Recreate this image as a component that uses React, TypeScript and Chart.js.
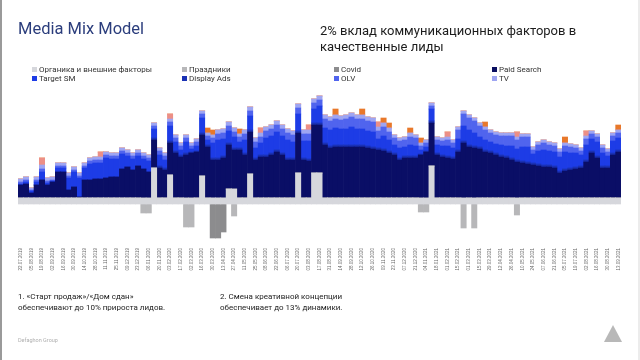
import React, { useEffect, useRef } from "react";
import { Chart, registerables } from "chart.js";

Chart.register(...registerables);

const weekLabels: string[] = [
  "22.07.2019","29.07.2019","05.08.2019","12.08.2019","19.08.2019","26.08.2019","02.09.2019","09.09.2019","16.09.2019","23.09.2019",
  "30.09.2019","07.10.2019","14.10.2019","21.10.2019","28.10.2019","04.11.2019","11.11.2019","18.11.2019","25.11.2019","02.12.2019",
  "09.12.2019","16.12.2019","23.12.2019","30.12.2019","06.01.2020","13.01.2020","20.01.2020","27.01.2020","03.02.2020","10.02.2020",
  "17.02.2020","24.02.2020","02.03.2020","09.03.2020","16.03.2020","23.03.2020","30.03.2020","06.04.2020","13.04.2020","20.04.2020",
  "27.04.2020","04.05.2020","11.05.2020","18.05.2020","25.05.2020","01.06.2020","08.06.2020","15.06.2020","22.06.2020","29.06.2020",
  "06.07.2020","13.07.2020","20.07.2020","27.07.2020","03.08.2020","10.08.2020","17.08.2020","24.08.2020","31.08.2020","07.09.2020",
  "14.09.2020","21.09.2020","28.09.2020","05.10.2020","12.10.2020","19.10.2020","26.10.2020","02.11.2020","09.11.2020","16.11.2020",
  "23.11.2020","30.11.2020","07.12.2020","14.12.2020","21.12.2020","28.12.2020","04.01.2021","11.01.2021","18.01.2021","25.01.2021",
  "01.02.2021","08.02.2021","15.02.2021","22.02.2021","01.03.2021","08.03.2021","15.03.2021","22.03.2021","29.03.2021","05.04.2021",
  "12.04.2021","19.04.2021","26.04.2021","03.05.2021","10.05.2021","17.05.2021","24.05.2021","31.05.2021","07.06.2021","14.06.2021",
  "21.06.2021","28.06.2021","05.07.2021","12.07.2021","19.07.2021","26.07.2021","02.08.2021","09.08.2021","16.08.2021","23.08.2021",
  "30.08.2021","06.09.2021","13.09.2021"
];

const organic: number[] = [
  6,6,6,6,6,6,6,6,6,6, 6,6,6,6,6,6,6,6,6,6, 6,6,6,6,6,36,6,6,29,6,
  6,6,6,6,28,6,6,6,6,15, 15,6,6,30,6,6,6,6,6,6, 6,6,31,6,6,31,31,6,6,6,
  6,6,6,6,6,6,6,6,6,6, 6,6,6,6,6,6,6,38,6,6, 6,6,6,6,6,6,6,6,6,6,
  6,6,6,6,6,6,6,6,6,6, 6,6,6,6,6,6,6,6,6,6, 6,6,6
];

const holidays: number[] = [
  0,0,0,0,0,0,0,0,0,0, 0,0,0,0,0,0,0,0,0,0, 0,0,0,-9,-9,0,0,0,0,0,
  0,-23,-23,0,0,0,0,0,0,0, -12,0,0,0,0,0,0,0,0,0, 0,0,0,0,0,0,0,0,0,0,
  0,0,0,0,0,0,0,0,0,0, 0,0,0,0,0,-8,-8,0,0,0, 0,0,0,-24,0,-24,0,0,0,0,
  0,0,0,-11,0,0,0,0,0,0, 0,0,0,0,0,0,0,0,0,0, 0,0,0
];

const covid: number[] = [
  0,0,0,0,0,0,0,0,0,0, 0,0,0,0,0,0,0,0,0,0, 0,0,0,0,0,0,0,0,0,0,
  0,0,0,0,0,0,-34,-34,-28,0, 0,0,0,0,0,0,0,0,0,0, 0,0,0,0,0,0,0,0,0,0,
  0,0,0,0,0,0,0,0,0,0, 0,0,0,0,0,0,0,0,0,0, 0,0,0,0,0,0,0,0,0,0,
  0,0,0,0,0,0,0,0,0,0, 0,0,0,0,0,0,0,0,0,0, 0,0,0
];

const paidSearch: number[] = [
  13,14,5,13,18,13,16,26,26,8, 11,1,18,18,19,19,20,21,21,29, 31,28,32,29,26,28,30,28,32,45,
  41,43,45,46,41,51,38,38,40,44, 39,48,43,42,38,41,41,43,46,43, 38,38,40,38,37,48,48,53,50,51,
  51,51,51,51,51,50,49,48,47,45, 43,38,40,40,40,43,46,43,43,41, 40,39,46,55,51,50,49,46,45,43,
  41,40,38,36,35,34,33,32,31,31, 30,25,27,28,29,30,36,45,40,30, 30,43,46
];

const displayAds: number[] = [
  0,0,0,0,0,0,0,0,0,0, 0,0,0,0,0,0,0,0,0,0, 0,0,0,0,0,2,2,2,2,2,
  2,2,1,1,2,2,2,2,2,2, 2,2,2,2,2,2,2,2,2,2, 2,2,2,2,2,2,2,2,2,2,
  2,2,2,2,2,2,2,2,2,2, 2,2,2,2,2,1,1,2,2,2, 2,2,2,2,2,2,2,2,2,2,
  2,2,2,2,2,2,2,2,2,2, 2,2,2,2,2,2,2,2,2,2, 2,2,2
];

const targetSM: number[] = [
  1,2,2,3,8,2,1,4,4,12, 15,19,12,16,16,16,20,18,18,15, 11,11,10,10,11,9,11,8,15,9,
  5,11,3,5,15,5,15,18,17,12, 11,6,13,14,10,12,17,17,18,17, 18,16,17,17,18,14,17,15,16,17,
  16,16,18,16,16,15,15,9,13,11, 8,10,9,11,10,4,4,12,8,9, 10,9,11,15,15,13,10,10,9,9,
  10,10,12,11,14,15,9,13,15,14, 14,14,17,15,14,11,15,12,14,13, 10,12,12
];

const olv: number[] = [
  2,2,1,2,3,2,1,2,2,2, 2,2,2,3,3,3,3,3,3,3, 3,3,3,3,3,3,4,4,4,4,
  4,4,3,4,4,4,5,6,6,5, 5,5,6,5,6,6,7,7,7,7, 7,7,6,7,7,6,6,9,9,9,
  9,10,10,10,10,10,10,8,9,8, 7,7,7,8,8,4,4,3,5,5, 6,5,9,12,12,12,11,10,9,9,
  9,10,10,9,10,10,4,6,7,6, 6,5,6,6,5,4,6,5,5,5, 4,5,5
];

const tv: number[] = [
  3,3,2,3,4,3,3,3,3,3, 3,3,3,3,3,3,3,3,3,3, 3,3,3,3,3,3,3,3,3,3,
  3,3,3,3,3,3,3,4,4,4, 4,3,4,4,4,4,4,4,4,4, 4,4,4,4,4,4,4,4,4,4,
  4,4,4,4,4,4,4,4,4,4, 3,3,3,4,3,3,3,3,3,3, 3,3,3,3,3,3,3,3,3,3,
  3,3,3,3,3,3,3,3,3,3, 3,3,3,3,3,3,3,3,3,3, 3,3,3
];

const salesStart: number[] = [
  0,0,0,0,7,0,0,0,0,0, 0,0,0,0,0,5,0,0,0,0, 0,0,0,0,0,0,0,0,5,0,
  0,0,0,0,0,0,0,0,0,0, 0,0,0,0,0,5,0,0,0,0, 0,0,0,0,5,0,0,0,0,0,
  0,0,0,0,0,0,0,5,0,0, 0,0,0,0,0,0,0,0,0,0, 5,0,0,0,0,0,0,0,0,0,
  0,0,0,5,0,0,0,0,0,0, 0,0,0,0,0,0,5,0,0,0, 0,0,0
];

const creative: number[] = [
  0,0,0,0,0,0,0,0,0,0, 0,0,0,0,0,0,0,0,0,0, 0,0,0,0,0,0,0,0,0,0,
  0,0,0,0,0,5,5,0,0,0, 0,5,0,0,0,0,0,0,0,0, 0,0,0,0,0,0,0,0,0,6,
  0,0,0,0,6,0,0,0,5,5, 0,0,0,5,0,5,0,0,0,0, 0,0,0,0,0,0,0,5,0,0,
  0,0,0,0,0,0,0,0,0,0, 0,0,6,0,0,0,0,0,0,0, 0,0,5
];

const legendNames: string[] = [
  "Органика и внешние факторы", "Праздники", "Covid", "Paid Search",
  "Target SM", "Display Ads", "OLV", "TV"
];
const legendColors: string[] = [
  "#d6d7dc", "#b7b7b9", "#8c8c8e", "#0a0e60",
  "#1d3ce6", "#1a31b4", "#5064ee", "#9ea5f2"
];

const C = {
  organic: "#d6d7dc",
  holidays: "#b7b7b9",
  covid: "#8c8c8e",
  paid: "#0a0e66",
  target: "#1d3ce6",
  display: "#1a31b4",
  olv: "#5064ee",
  tv: "#9ea5f2",
  salmon: "#ec8f86",
  orange: "#e8782a",
};

export default function App() {
  const ref = useRef<HTMLCanvasElement>(null);

  useEffect(() => {
    if (!ref.current) return;
    const mk = (label: string, data: number[], color: string) => ({
      label,
      data,
      backgroundColor: color,
      borderWidth: 0,
      barPercentage: 1,
      categoryPercentage: 1,
      stack: "s",
    });
    const chart = new Chart(ref.current, {
      type: "bar",
      data: {
        labels: weekLabels,
        datasets: [
          mk(legendNames[0], organic, C.organic),
          mk(legendNames[1], holidays, C.holidays),
          mk(legendNames[2], covid, C.covid),
          mk(legendNames[3], paidSearch, C.paid),
          mk(legendNames[5], displayAds, C.display),
          mk(legendNames[4], targetSM, C.target),
          mk(legendNames[6], olv, C.olv),
          mk(legendNames[7], tv, C.tv),
          mk("Старт продаж / Дом сдан", salesStart, C.salmon),
          mk("Смена креативной концепции", creative, C.orange),
        ],
      },
      options: {
        animation: false,
        responsive: false,
        maintainAspectRatio: false,
        layout: { padding: { left: 18, right: 19, top: 94, bottom: 81.5 } },
        plugins: { legend: { display: false }, tooltip: { enabled: false } },
        scales: {
          x: {
            stacked: true,
            grid: { display: false, drawTicks: false },
            border: { display: false },
            afterFit: (s: any) => {
              s.height = 38.5;
            },
            ticks: {
              autoSkip: false,
              minRotation: 90,
              maxRotation: 90,
              padding: 8,
              color: "#6a6a6a",
              font: { size: 4.5, family: "Liberation Sans" },
              callback: (_v: any, i: number) => (i % 2 === 0 ? weekLabels[i] : ""),
            },
          },
          y: { stacked: true, display: false, min: -36, max: 110 },
        },
      },
    });
    return () => chart.destroy();
  }, []);

  const font = "Roboto, 'Noto Sans', sans-serif";
  const legendLeft = [32, 182, 334, 492];

  return (
    <div
      style={{
        position: "fixed",
        left: 0,
        top: 0,
        width: 640,
        height: 360,
        background: "#fff",
        overflow: "hidden",
        fontFamily: font,
      }}
    >
      <canvas ref={ref} width={640} height={360} style={{ position: "absolute", left: 0, top: 0, width: 640, height: 360 }} />
      <div style={{ position: "absolute", left: 0, top: 0, width: 2, height: 360, background: "#9a9a9a" }} />
      <div style={{ position: "absolute", right: 0, top: 0, width: 2, height: 360, background: "#ececec" }} />
      <div style={{ position: "absolute", left: 18, top: 19, fontSize: 16.5, lineHeight: "20px", color: "#2b3d7c" }}>
        Media Mix Model
      </div>
      <div style={{ position: "absolute", left: 320, top: 23, fontSize: 13, lineHeight: "15.5px", color: "#1c1c1c" }}>
        2% вклад коммуникационных факторов в
        <br />
        качественные лиды
      </div>
      {legendNames.map((n, k) => (
        <div
          key={n}
          style={{
            position: "absolute",
            left: legendLeft[k % 4],
            top: 65 + Math.floor(k / 4) * 8.5,
            fontSize: 8,
            lineHeight: "9px",
            color: "#333",
            whiteSpace: "nowrap",
            display: "flex",
            alignItems: "center",
          }}
        >
          <span style={{ display: "inline-block", width: 5, height: 5, background: legendColors[k], marginRight: 2 }} />
          {n}
        </div>
      ))}
      <div style={{ position: "absolute", left: 18, top: 291, fontSize: 8, lineHeight: "11px", color: "#222" }}>
        1. «Старт продаж»/«Дом сдан»
        <br />
        обеспечивают до 10% прироста лидов.
      </div>
      <div style={{ position: "absolute", left: 220, top: 291, fontSize: 8, lineHeight: "11px", color: "#222" }}>
        2. Смена креативной концепции
        <br />
        обеспечивает до 13% динамики.
      </div>
      <div style={{ position: "absolute", left: 18, top: 337, fontSize: 5.5, lineHeight: "6px", color: "#b0b0b0" }}>
        Defaghon Group
      </div>
      <svg style={{ position: "absolute", left: 603, top: 324 }} width={20} height={20}>
        <polygon points="10,1 19,18 1,18" fill="#b8b8b8" />
      </svg>
    </div>
  );
}
